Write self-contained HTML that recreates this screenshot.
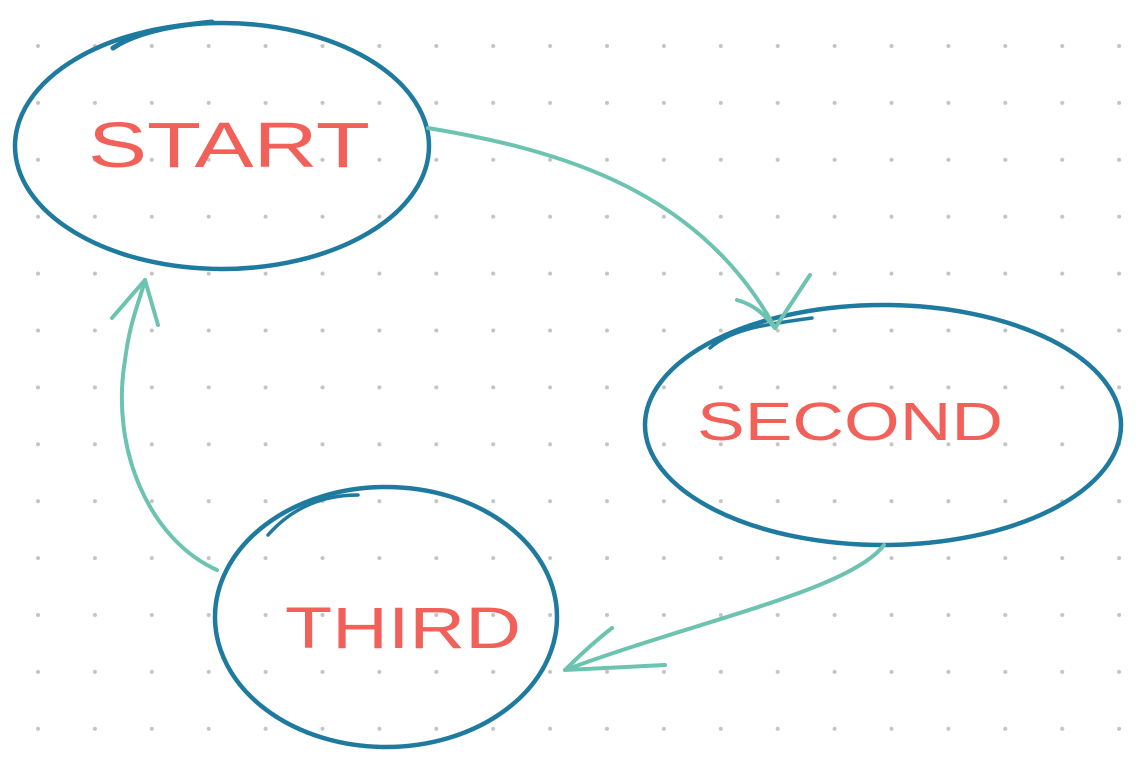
<!DOCTYPE html>
<html><head><meta charset="utf-8"><style>
html,body{margin:0;padding:0;background:#fff;}
svg{display:block}
text{font-family:"Liberation Sans",sans-serif;fill:#f2605a;}
</style></head><body>
<svg width="1138" height="764" viewBox="0 0 1138 764" xmlns="http://www.w3.org/2000/svg">
<defs>
<pattern id="g" x="38" y="46" width="56.9" height="56.9" patternUnits="userSpaceOnUse">
<circle cx="0" cy="0" r="2" fill="#c4c4c4"/><circle cx="56.9" cy="0" r="2" fill="#c4c4c4"/><circle cx="0" cy="56.9" r="2" fill="#c4c4c4"/><circle cx="56.9" cy="56.9" r="2" fill="#c4c4c4"/>
</pattern>
</defs>
<rect x="0" y="0" width="1138" height="764" fill="url(#g)"/>
<g fill="none" stroke="#1f7aa0" stroke-width="4.5" stroke-linecap="round">
<ellipse cx="222" cy="146" rx="207" ry="123"/>
<path d="M113,48 C140,30 180,25 212,22" stroke-width="5"/>
<ellipse cx="883" cy="425" rx="238" ry="120"/>
<path d="M710,348 C730,330 760,325 812,318" stroke-width="3.5"/>
<ellipse cx="386" cy="617" rx="171" ry="130"/>
<path d="M268,535 C290,510 320,495 358,495" stroke-width="3.5"/>
</g>
<g fill="none" stroke="#6cc3b0" stroke-width="4" stroke-linecap="round" stroke-linejoin="round">
<path d="M428,128 C560,150 700,190 775,328"/>
<path d="M737,300 C755,305 765,315 775,328 L810,275"/>
<path d="M884,545 C850,590 700,620 565,670"/>
<path d="M612,628 C590,645 575,660 565,670 L665,665"/>
<path d="M217,570 C150,540 110,450 125,360 C130,320 140,300 145,280"/>
<path d="M112,318 L145,280 L158,325"/>
</g>
<text x="88" y="167" font-size="64" textLength="282" lengthAdjust="spacingAndGlyphs">START</text>
<text x="697" y="440" font-size="54" textLength="306" lengthAdjust="spacingAndGlyphs">SECOND</text>
<text x="285" y="648" font-size="58" textLength="236" lengthAdjust="spacingAndGlyphs">THIRD</text>
</svg>
</body></html>
